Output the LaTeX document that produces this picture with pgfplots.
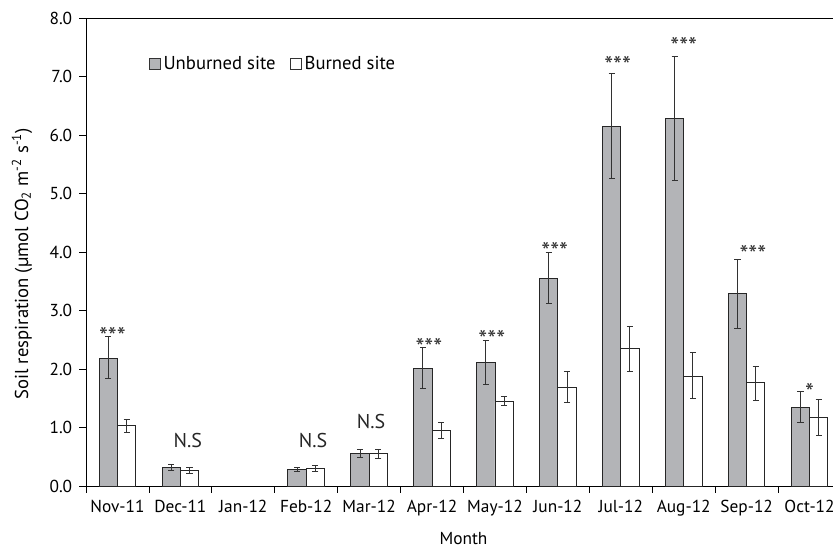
\documentclass[border=0pt]{standalone}
\usepackage{pgfplots}
\pgfplotsset{compat=1.18}
\usepackage{fontspec}
\setmainfont{PT Sans}
\definecolor{ubgray}{RGB}{179,180,183}
\definecolor{errc}{RGB}{50,50,50}
\begin{document}
\fontsize{12.5pt}{14.5pt}\selectfont
\begin{tikzpicture}
\begin{axis}[
  width=566.25pt, height=351pt, scale only axis,
  xmin=-0.5, xmax=11.5, ymin=0, ymax=8,
  ybar=0pt, bar width=0.29,
  axis lines*=left, axis line style={-, black, line width=0.6pt},
  ytick={0,1,...,8},
  yticklabel style={/pgf/number format/fixed, /pgf/number format/fixed zerofill, /pgf/number format/precision=1, xshift=-1pt},
  /pgf/number format/assume math mode=true,
  xtick={0,...,11},
  xticklabels={Nov-11,Dec-11,Jan-12,Feb-12,Mar-12,Apr-12,May-12,Jun-12,Jul-12,Aug-12,Sep-12,Oct-12},
  major x tick style={draw=none},
  minor xtick={-0.5,0.5,...,11.5},
  tick align=outside, tick style={black, line width=0.6pt},
  major tick length=5pt, minor tick length=5pt,
  ticklabel style={font=\fontsize{13pt}{15pt}\selectfont},
  xticklabel style={yshift=-1pt},
  ylabel={Soil respiration (µmol CO\textsubscript{2} m\textsuperscript{-2} s\textsuperscript{-1})},
  xlabel={Month},
  label style={font=\fontsize{14pt}{16pt}\selectfont},
  ylabel style={at={(rel axis cs:-0.0848,0.475)}, anchor=center, rotate=0},
  xlabel style={at={(rel axis cs:0.5,-0.124)}, anchor=base, font=\fontsize{13pt}{15pt}\selectfont},
  legend style={draw=none, fill=none, at={(0.0834,0.9017)}, anchor=west, inner sep=0pt,
    legend columns=2, font=\fontsize{14pt}{16pt}\selectfont,
    /tikz/every even column/.append style={column sep=9pt}},
  legend image code/.code={\draw[#1, draw=black!80, line width=0.5pt] (0pt,-4.1pt) rectangle (8.25pt,4.1pt);},
  clip=false,
]
\addplot[fill=ubgray, draw=black!85, line width=0.7pt,
  error bars/.cd, y dir=both, y explicit,
  error bar style={errc, line width=0.7pt},
  error mark options={rotate=90, mark size=2.3pt, errc, line width=0.7pt}]
coordinates {
(0,2.18) += (0,0.37) -= (0,0.35)
(1,0.32) += (0,0.05) -= (0,0.06)
(3,0.28) += (0,0.04) -= (0,0.04)
(4,0.555) += (0,0.065) -= (0,0.07)
(5,2.01) += (0,0.35) -= (0,0.34)
(6,2.11) += (0,0.37) -= (0,0.37)
(7,3.55) += (0,0.44) -= (0,0.43)
(8,6.15) += (0,0.90) -= (0,0.90)
(9,6.29) += (0,1.06) -= (0,1.06)
(10,3.29) += (0,0.58) -= (0,0.59)
(11,1.34) += (0,0.27) -= (0,0.26)
};
\addlegendentry{Unburned site}
\addplot[fill=white, draw=black!85, line width=0.7pt,
  error bars/.cd, y dir=both, y explicit,
  error bar style={errc, line width=0.7pt},
  error mark options={rotate=90, mark size=2.3pt, errc, line width=0.7pt}]
coordinates {
(0,1.03) += (0,0.10) -= (0,0.11)
(1,0.27) += (0,0.05) -= (0,0.05)
(3,0.30) += (0,0.05) -= (0,0.05)
(4,0.55) += (0,0.07) -= (0,0.08)
(5,0.95) += (0,0.13) -= (0,0.13)
(6,1.45) += (0,0.08) -= (0,0.08)
(7,1.69) += (0,0.26) -= (0,0.27)
(8,2.35) += (0,0.38) -= (0,0.39)
(9,1.88) += (0,0.40) -= (0,0.39)
(10,1.77) += (0,0.28) -= (0,0.30)
(11,1.17) += (0,0.31) -= (0,0.30)
};
\addlegendentry{Burned site}
\draw[black, line width=0.6pt] (rel axis cs:0,1) -- (rel axis cs:1,1);
\begin{scope}[every node/.style={font=\fontsize{19pt}{21pt}\selectfont, text=black!80, yshift=-3pt}]
\node at (axis cs:-0.08,2.62) {***};
\node at (axis cs:4.95,2.44) {***};
\node at (axis cs:5.95,2.57) {***};
\node at (axis cs:6.95,4.08) {***};
\node at (axis cs:7.95,7.26) {***};
\node at (axis cs:9.0,7.58) {***};
\node at (axis cs:10.1,4.02) {***};
\node at (axis cs:11.0,1.67) {*};
\end{scope}
\begin{scope}[every node/.style={font=\fontsize{15pt}{17pt}\selectfont, text=black!85}]
\node at (axis cs:1.12,0.78) {N.S};
\node at (axis cs:3.11,0.78) {N.S};
\node at (axis cs:4.03,1.10) {N.S};
\end{scope}
\coordinate (bbl) at (rel axis cs:-0.1139,-0.1325);
\coordinate (btr) at (rel axis cs:0.9894,1.0385);
\end{axis}
\pgfresetboundingbox
\path (bbl) rectangle (btr);
\end{tikzpicture}
\end{document}
